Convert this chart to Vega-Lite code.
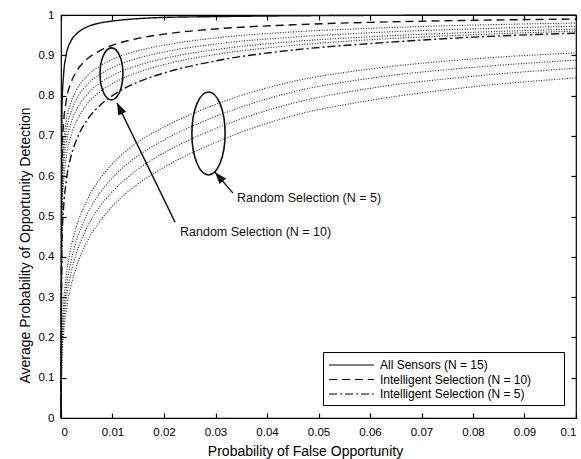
{
  "$schema": "https://vega.github.io/schema/vega-lite/v6.json",
  "width": 515,
  "height": 403,
  "autosize": "none",
  "padding": {"left": 61, "top": 15, "right": 5, "bottom": 41},
  "background": "white",
  "datasets": {
    "main": [
      {"s":"All Sensors (N = 15)","x":0,"y":0},{"s":"All Sensors (N = 15)","x":0.0002,"y":0.775},{"s":"All Sensors (N = 15)","x":0.0005,"y":0.852},{"s":"All Sensors (N = 15)","x":0.001,"y":0.9},{"s":"All Sensors (N = 15)","x":0.002,"y":0.937},{"s":"All Sensors (N = 15)","x":0.003,"y":0.953},{"s":"All Sensors (N = 15)","x":0.005,"y":0.97},{"s":"All Sensors (N = 15)","x":0.0075,"y":0.98},{"s":"All Sensors (N = 15)","x":0.01,"y":0.985},{"s":"All Sensors (N = 15)","x":0.015,"y":0.991},{"s":"All Sensors (N = 15)","x":0.02,"y":0.994},{"s":"All Sensors (N = 15)","x":0.03,"y":0.996},{"s":"All Sensors (N = 15)","x":0.045,"y":0.998},{"s":"All Sensors (N = 15)","x":0.06,"y":0.999},{"s":"All Sensors (N = 15)","x":0.08,"y":0.9994},{"s":"All Sensors (N = 15)","x":0.1,"y":0.9997},
      {"s":"Intelligent Selection (N = 10)","x":0,"y":0},{"s":"Intelligent Selection (N = 10)","x":0.0002,"y":0.659},{"s":"Intelligent Selection (N = 10)","x":0.0005,"y":0.732},{"s":"Intelligent Selection (N = 10)","x":0.001,"y":0.786},{"s":"Intelligent Selection (N = 10)","x":0.002,"y":0.834},{"s":"Intelligent Selection (N = 10)","x":0.003,"y":0.86},{"s":"Intelligent Selection (N = 10)","x":0.005,"y":0.89},{"s":"Intelligent Selection (N = 10)","x":0.0075,"y":0.911},{"s":"Intelligent Selection (N = 10)","x":0.01,"y":0.925},{"s":"Intelligent Selection (N = 10)","x":0.015,"y":0.942},{"s":"Intelligent Selection (N = 10)","x":0.02,"y":0.9525},{"s":"Intelligent Selection (N = 10)","x":0.03,"y":0.9654},{"s":"Intelligent Selection (N = 10)","x":0.045,"y":0.9757},{"s":"Intelligent Selection (N = 10)","x":0.06,"y":0.9818},{"s":"Intelligent Selection (N = 10)","x":0.08,"y":0.9868},{"s":"Intelligent Selection (N = 10)","x":0.1,"y":0.99},
      {"s":"Intelligent Selection (N = 5)","x":0,"y":0},{"s":"Intelligent Selection (N = 5)","x":0.0002,"y":0.44},{"s":"Intelligent Selection (N = 5)","x":0.0005,"y":0.521},{"s":"Intelligent Selection (N = 5)","x":0.001,"y":0.586},{"s":"Intelligent Selection (N = 5)","x":0.002,"y":0.652},{"s":"Intelligent Selection (N = 5)","x":0.003,"y":0.69},{"s":"Intelligent Selection (N = 5)","x":0.005,"y":0.738},{"s":"Intelligent Selection (N = 5)","x":0.0075,"y":0.775},{"s":"Intelligent Selection (N = 5)","x":0.01,"y":0.8},{"s":"Intelligent Selection (N = 5)","x":0.015,"y":0.834},{"s":"Intelligent Selection (N = 5)","x":0.02,"y":0.856},{"s":"Intelligent Selection (N = 5)","x":0.03,"y":0.886},{"s":"Intelligent Selection (N = 5)","x":0.045,"y":0.913},{"s":"Intelligent Selection (N = 5)","x":0.06,"y":0.929},{"s":"Intelligent Selection (N = 5)","x":0.08,"y":0.945},{"s":"Intelligent Selection (N = 5)","x":0.1,"y":0.955}
    ],
    "rand": [
      {"s":"r10a","x":0,"y":0},{"s":"r10a","x":0.0002,"y":0.604},{"s":"r10a","x":0.0005,"y":0.678},{"s":"r10a","x":0.001,"y":0.733},{"s":"r10a","x":0.002,"y":0.785},{"s":"r10a","x":0.003,"y":0.814},{"s":"r10a","x":0.005,"y":0.848},{"s":"r10a","x":0.0075,"y":0.873},{"s":"r10a","x":0.01,"y":0.89},{"s":"r10a","x":0.015,"y":0.9115},{"s":"r10a","x":0.02,"y":0.925},{"s":"r10a","x":0.03,"y":0.943},{"s":"r10a","x":0.045,"y":0.958},{"s":"r10a","x":0.06,"y":0.967},{"s":"r10a","x":0.08,"y":0.975},{"s":"r10a","x":0.1,"y":0.98},
      {"s":"r10b","x":0,"y":0},{"s":"r10b","x":0.0002,"y":0.584},{"s":"r10b","x":0.0005,"y":0.655},{"s":"r10b","x":0.001,"y":0.709},{"s":"r10b","x":0.002,"y":0.761},{"s":"r10b","x":0.003,"y":0.791},{"s":"r10b","x":0.005,"y":0.826},{"s":"r10b","x":0.0075,"y":0.852},{"s":"r10b","x":0.01,"y":0.87},{"s":"r10b","x":0.015,"y":0.893},{"s":"r10b","x":0.02,"y":0.908},{"s":"r10b","x":0.03,"y":0.928},{"s":"r10b","x":0.045,"y":0.945},{"s":"r10b","x":0.06,"y":0.956},{"s":"r10b","x":0.08,"y":0.9655},{"s":"r10b","x":0.1,"y":0.972},
      {"s":"r10c","x":0,"y":0},{"s":"r10c","x":0.0002,"y":0.553},{"s":"r10c","x":0.0005,"y":0.625},{"s":"r10c","x":0.001,"y":0.68},{"s":"r10c","x":0.002,"y":0.734},{"s":"r10c","x":0.003,"y":0.765},{"s":"r10c","x":0.005,"y":0.802},{"s":"r10c","x":0.0075,"y":0.831},{"s":"r10c","x":0.01,"y":0.85},{"s":"r10c","x":0.015,"y":0.875},{"s":"r10c","x":0.02,"y":0.892},{"s":"r10c","x":0.03,"y":0.914},{"s":"r10c","x":0.045,"y":0.934},{"s":"r10c","x":0.06,"y":0.946},{"s":"r10c","x":0.08,"y":0.957},{"s":"r10c","x":0.1,"y":0.965},
      {"s":"r10d","x":0,"y":0},{"s":"r10d","x":0.0002,"y":0.511},{"s":"r10d","x":0.0005,"y":0.586},{"s":"r10d","x":0.001,"y":0.645},{"s":"r10d","x":0.002,"y":0.703},{"s":"r10d","x":0.003,"y":0.736},{"s":"r10d","x":0.005,"y":0.778},{"s":"r10d","x":0.0075,"y":0.809},{"s":"r10d","x":0.01,"y":0.83},{"s":"r10d","x":0.015,"y":0.858},{"s":"r10d","x":0.02,"y":0.877},{"s":"r10d","x":0.03,"y":0.902},{"s":"r10d","x":0.045,"y":0.9245},{"s":"r10d","x":0.06,"y":0.9386},{"s":"r10d","x":0.08,"y":0.951},{"s":"r10d","x":0.1,"y":0.96},
      {"s":"r5a","x":0,"y":0},{"s":"r5a","x":0.0002,"y":0.2095},{"s":"r5a","x":0.0005,"y":0.283},{"s":"r5a","x":0.001,"y":0.35},{"s":"r5a","x":0.002,"y":0.427},{"s":"r5a","x":0.003,"y":0.475},{"s":"r5a","x":0.005,"y":0.539},{"s":"r5a","x":0.0075,"y":0.5925},{"s":"r5a","x":0.01,"y":0.631},{"s":"r5a","x":0.015,"y":0.685},{"s":"r5a","x":0.02,"y":0.722},{"s":"r5a","x":0.03,"y":0.778},{"s":"r5a","x":0.045,"y":0.835},{"s":"r5a","x":0.06,"y":0.866},{"s":"r5a","x":0.08,"y":0.891},{"s":"r5a","x":0.1,"y":0.906},
      {"s":"r5b","x":0,"y":0},{"s":"r5b","x":0.0002,"y":0.1865},{"s":"r5b","x":0.0005,"y":0.255},{"s":"r5b","x":0.001,"y":0.319},{"s":"r5b","x":0.002,"y":0.392},{"s":"r5b","x":0.003,"y":0.44},{"s":"r5b","x":0.005,"y":0.504},{"s":"r5b","x":0.0075,"y":0.557},{"s":"r5b","x":0.01,"y":0.596},{"s":"r5b","x":0.015,"y":0.651},{"s":"r5b","x":0.02,"y":0.69},{"s":"r5b","x":0.03,"y":0.748},{"s":"r5b","x":0.045,"y":0.809},{"s":"r5b","x":0.06,"y":0.843},{"s":"r5b","x":0.08,"y":0.87},{"s":"r5b","x":0.1,"y":0.888},
      {"s":"r5c","x":0,"y":0},{"s":"r5c","x":0.0002,"y":0.169},{"s":"r5c","x":0.0005,"y":0.233},{"s":"r5c","x":0.001,"y":0.293},{"s":"r5c","x":0.002,"y":0.363},{"s":"r5c","x":0.003,"y":0.409},{"s":"r5c","x":0.005,"y":0.471},{"s":"r5c","x":0.0075,"y":0.524},{"s":"r5c","x":0.01,"y":0.562},{"s":"r5c","x":0.015,"y":0.618},{"s":"r5c","x":0.02,"y":0.658},{"s":"r5c","x":0.03,"y":0.718},{"s":"r5c","x":0.045,"y":0.781},{"s":"r5c","x":0.06,"y":0.818},{"s":"r5c","x":0.08,"y":0.848},{"s":"r5c","x":0.1,"y":0.868},
      {"s":"r5d","x":0,"y":0},{"s":"r5d","x":0.0002,"y":0.15},{"s":"r5d","x":0.0005,"y":0.209},{"s":"r5d","x":0.001,"y":0.265},{"s":"r5d","x":0.002,"y":0.331},{"s":"r5d","x":0.003,"y":0.375},{"s":"r5d","x":0.005,"y":0.436},{"s":"r5d","x":0.0075,"y":0.487},{"s":"r5d","x":0.01,"y":0.5255},{"s":"r5d","x":0.015,"y":0.5815},{"s":"r5d","x":0.02,"y":0.622},{"s":"r5d","x":0.03,"y":0.684},{"s":"r5d","x":0.045,"y":0.75},{"s":"r5d","x":0.06,"y":0.788},{"s":"r5d","x":0.08,"y":0.822},{"s":"r5d","x":0.1,"y":0.844}
    ],
    "arrows": [
      {"id":"n10","x":0.02214,"y":0.486,"x2":0.01087,"y2":0.782},
      {"id":"n5","x":0.0334,"y":0.558,"x2":0.0299,"y2":0.61}
    ],
    "labels": [
      {"x":0.02311,"y":0.4615,"t":"Random Selection (N = 10)"},
      {"x":0.03417,"y":0.546,"t":"Random Selection (N = 5)"}
    ]
  },
  "layer": [
    {
      "data": {"name": "rand"},
      "mark": {"type": "line", "interpolate": "monotone", "stroke": "#222", "strokeWidth": 1.1, "strokeDash": [1, 1.6]},
      "encoding": {
        "x": {"field": "x", "type": "quantitative", "scale": {"domain": [0, 0.1], "nice": false, "zero": false},
              "axis": {"orient": "bottom", "values": [0,0.01,0.02,0.03,0.04,0.05,0.06,0.07,0.08,0.09,0.1], "format": "~g", "title": "Probability of False Opportunity", "offset": -5, "tickSize": 5, "domain": false, "labelPadding": 8, "titlePadding": 7, "titleX": 244}},
        "y": {"field": "y", "type": "quantitative", "scale": {"domain": [0, 1], "nice": false, "zero": false},
              "axis": {"orient": "left", "values": [0,0.1,0.2,0.3,0.4,0.5,0.6,0.7,0.8,0.9,1], "format": "~g", "title": "Average Probability of Opportunity Detection", "offset": -5, "tickSize": 5, "domain": false, "labelPadding": 7, "titlePadding": 6, "titleY": 230}},
        "detail": {"field": "s", "type": "nominal"}
      }
    },
    {
      "data": {"name": "main"},
      "mark": {"type": "line", "interpolate": "monotone", "stroke": "#111", "strokeWidth": 1.4},
      "encoding": {
        "x": {"field": "x", "type": "quantitative", "scale": {"domain": [0, 0.1], "nice": false, "zero": false},
              "axis": {"orient": "top", "values": [0,0.01,0.02,0.03,0.04,0.05,0.06,0.07,0.08,0.09,0.1], "labels": false, "title": null, "offset": -5, "tickSize": 5, "domain": false}},
        "y": {"field": "y", "type": "quantitative", "scale": {"domain": [0, 1], "nice": false, "zero": false},
              "axis": {"orient": "right", "values": [0,0.1,0.2,0.3,0.4,0.5,0.6,0.7,0.8,0.9,1], "labels": false, "title": null, "offset": -5, "tickSize": 5, "domain": false}},
        "strokeDash": {"field": "s", "type": "nominal",
          "scale": {"domain": ["All Sensors (N = 15)", "Intelligent Selection (N = 10)", "Intelligent Selection (N = 5)"], "range": [[1, 0], [8, 5], [8, 3, 2, 3]]},
          "legend": {"title": "\u2003", "titleOrient": "right", "titlePadding": 28, "titleFontSize": 2, "orient": "none", "legendX": 262, "legendY": 337, "symbolType": "M-1,0H5.4", "symbolSize": 196, "symbolStrokeColor": "black", "symbolStrokeWidth": 1.2, "labelOffset": 36, "labelLimit": 400, "padding": 5, "rowPadding": 0.5, "strokeColor": "black", "fillColor": "white", "labelFontSize": 12, "labelFont": "Liberation Sans", "labelColor": "black"}
        }
      }
    },
    {
      "data": {"values": [{"x": 0.0098, "y": 0.854}]},
      "mark": {"type": "point", "shape": "M0,-1A0.44,1 0 1,1 0,1A0.44,1 0 1,1 0,-1Z", "size": 2704, "filled": false, "stroke": "#111", "strokeWidth": 1.6, "opacity": 1},
      "encoding": {"x": {"field": "x", "type": "quantitative", "axis": null}, "y": {"field": "y", "type": "quantitative", "axis": null}}
    },
    {
      "data": {"values": [{"x": 0.02864, "y": 0.706}]},
      "mark": {"type": "point", "shape": "M0,-1A0.4,1 0 1,1 0,1A0.4,1 0 1,1 0,-1Z", "size": 6889, "filled": false, "stroke": "#111", "strokeWidth": 1.6, "opacity": 1},
      "encoding": {"x": {"field": "x", "type": "quantitative", "axis": null}, "y": {"field": "y", "type": "quantitative", "axis": null}}
    },
    {
      "data": {"name": "arrows"},
      "mark": {"type": "rule", "stroke": "#111", "strokeWidth": 1.4},
      "encoding": {
        "x": {"field": "x", "type": "quantitative", "axis": null},
        "y": {"field": "y", "type": "quantitative", "axis": null},
        "x2": {"field": "x2"},
        "y2": {"field": "y2"}
      }
    },
    {
      "data": {"name": "arrows"},
      "transform": [{"filter": "datum.id == 'n10'"}],
      "mark": {"type": "point", "shape": "M0,0L0.36,1L-0.36,1Z", "size": 576, "filled": true, "fill": "#111", "opacity": 1, "angle": 334},
      "encoding": {"x": {"field": "x2", "type": "quantitative", "axis": null}, "y": {"field": "y2", "type": "quantitative", "axis": null}}
    },
    {
      "data": {"name": "arrows"},
      "transform": [{"filter": "datum.id == 'n5'"}],
      "mark": {"type": "point", "shape": "M0,0L0.36,1L-0.36,1Z", "size": 576, "filled": true, "fill": "#111", "opacity": 1, "angle": 319},
      "encoding": {"x": {"field": "x2", "type": "quantitative", "axis": null}, "y": {"field": "y2", "type": "quantitative", "axis": null}}
    },
    {
      "data": {"name": "labels"},
      "mark": {"type": "text", "align": "left", "baseline": "middle", "font": "Liberation Sans", "fontSize": 12.5, "fill": "#111"},
      "encoding": {
        "x": {"field": "x", "type": "quantitative", "axis": null},
        "y": {"field": "y", "type": "quantitative", "axis": null},
        "text": {"field": "t", "type": "nominal"}
      }
    }
  ],
  "resolve": {"axis": {"x": "independent", "y": "independent"}},
  "config": {
    "font": "Liberation Sans",
    "view": {"stroke": "black", "strokeWidth": 1.2},
    "axis": {"grid": false, "domainColor": "black", "tickColor": "black", "tickWidth": 1.2, "labelColor": "black", "titleColor": "black", "labelFont": "Liberation Sans", "titleFont": "Liberation Sans", "labelFontSize": 11.5, "titleFontSize": 14, "titleFontWeight": "normal"}
  }
}
